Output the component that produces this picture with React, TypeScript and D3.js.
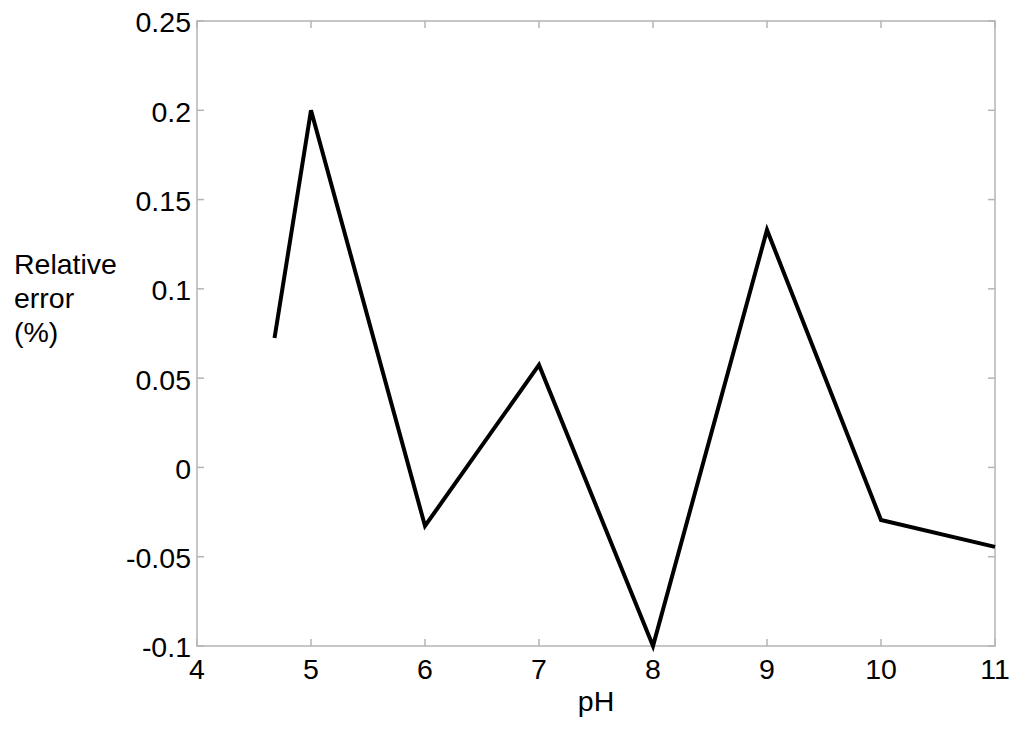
import React from 'react';
import * as d3 from 'd3';

// pH values and relative error (%)
const phValues = [4.68, 5, 6, 7, 8, 9, 10, 11];
const relError = [0.0725, 0.2, -0.0328, 0.0574, -0.1, 0.133, -0.0294, -0.0445];
const xTicks = [4, 5, 6, 7, 8, 9, 10, 11];
const yTicks = [-0.1, -0.05, 0, 0.05, 0.1, 0.15, 0.2, 0.25];
const yLabelLines = ['Relative', 'error', '(%)'];

export default function App() {
  const width = 1024;
  const height = 731;
  const margin = { top: 21, right: 29, bottom: 85, left: 197 };
  const w = width - margin.left - margin.right;
  const h = height - margin.top - margin.bottom;

  const x = d3.scaleLinear().domain([4, 11]).range([0, w]);
  const y = d3.scaleLinear().domain([-0.1, 0.25]).range([h, 0]);

  const line = d3
    .line<number>()
    .x((d, i) => x(phValues[i]))
    .y((d) => y(d));

  const axisColor = '#b4b4b4';
  const tickLen = 7;
  const fs = 28.5;
  const font = 'Liberation Sans, Arial, sans-serif';
  const fmt = (v: number) => String(+v.toFixed(2));

  return (
    <svg
      width={width}
      height={height}
      style={{ position: 'absolute', left: 0, top: 0, background: '#fff' }}
      fontFamily={font}
    >
      <g transform={`translate(${margin.left},${margin.top})`}>
        <rect x={0} y={0} width={w} height={h} fill="none" stroke={axisColor} strokeWidth={1.5} />
        {xTicks.map((t) => (
          <g key={'x' + t}>
            <line x1={x(t)} x2={x(t)} y1={h} y2={h - tickLen} stroke={axisColor} strokeWidth={1.5} />
            <line x1={x(t)} x2={x(t)} y1={0} y2={tickLen} stroke={axisColor} strokeWidth={1.5} />
            <text x={x(t)} y={h + 33} textAnchor="middle" fontSize={fs} fill="#000">
              {t}
            </text>
          </g>
        ))}
        {yTicks.map((t) => (
          <g key={'y' + t}>
            <line x1={0} x2={tickLen} y1={y(t)} y2={y(t)} stroke={axisColor} strokeWidth={1.5} />
            <line x1={w} x2={w - tickLen} y1={y(t)} y2={y(t)} stroke={axisColor} strokeWidth={1.5} />
            <text x={-6} y={y(t)} dy="0.4em" textAnchor="end" fontSize={fs} fill="#000">
              {fmt(t)}
            </text>
          </g>
        ))}
        <path d={line(relError) || ''} fill="none" stroke="#000" strokeWidth={4} strokeLinejoin="miter" />
        <text x={w / 2} y={h + 65} textAnchor="middle" fontSize={fs} fill="#000">
          pH
        </text>
      </g>
      {yLabelLines.map((s, i) => (
        <text key={s} x={14} y={274 + i * 34} fontSize={fs} fill="#000">
          {s}
        </text>
      ))}
    </svg>
  );
}
